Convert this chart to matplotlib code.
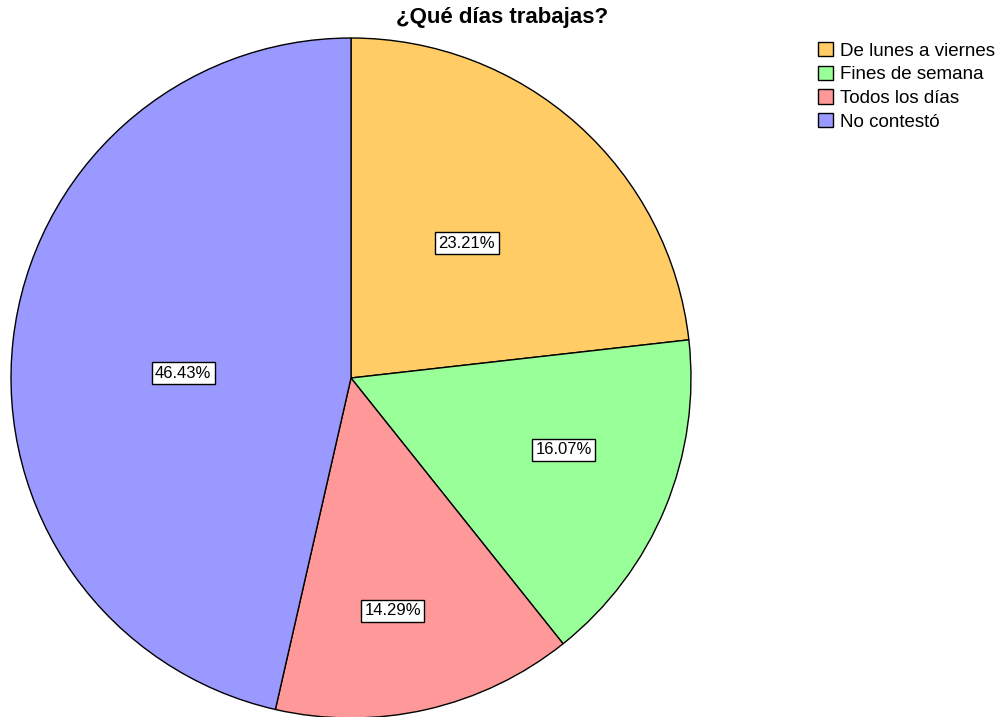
import matplotlib.pyplot as plt
from matplotlib.patches import Patch
import numpy as np

plt.rcParams['font.family'] = ['Liberation Sans', 'DejaVu Sans']

# Datos
categorias = ["De lunes a viernes", "Fines de semana", "Todos los días", "No contestó"]
porcentajes = [23.21, 16.07, 14.29, 46.43]
colores = ["#FFCC66", "#99FF99", "#FF9999", "#9999FF"]
titulo = "¿Qué días trabajas?"

# Posición de cada etiqueta: distancia (fracción del radio) y desvío angular (grados)
dist_etiquetas = [0.523, 0.661, 0.696, 0.494]
desvio_etiquetas = [1.1, 3.8, -2.7, 4.8]

W, H = 1002, 717
fig = plt.figure(figsize=(W / 100, H / 100), dpi=100)
cx, cy, r = 351, 378, 340
ax = fig.add_axes([(cx - r) / W, (H - cy - r) / H, 2 * r / W, 2 * r / H])

wedges, _ = ax.pie(porcentajes, colors=colores, startangle=90, counterclock=False,
                   wedgeprops=dict(edgecolor="black", linewidth=1))
ax.set_xlim(-1, 1)
ax.set_ylim(-1, 1)
ax.set_aspect("equal")
ax.axis("off")

# Etiquetas de porcentaje
for w, p, d, da in zip(wedges, porcentajes, dist_etiquetas, desvio_etiquetas):
    ang = np.deg2rad((w.theta1 + w.theta2) / 2 + da)
    ax.text(d * np.cos(ang), d * np.sin(ang), f"{p:.2f}%", ha="center", va="center",
            fontsize=12, bbox=dict(boxstyle="square,pad=0.2", facecolor="white",
                                   edgecolor="black", linewidth=1))

fig.text(502 / W, 1 - 18 / H, titulo, ha="center", va="center",
         fontsize=16, fontweight="bold")

handles = [Patch(facecolor=c, edgecolor="black", label=l) for c, l in zip(colores, categorias)]
fig.legend(handles=handles, loc="upper left", bbox_to_anchor=(818 / W, 1 - 42 / H),
           frameon=False, fontsize=13.5, handlelength=0.8, handleheight=0.8,
           handletextpad=0.35, labelspacing=0.32, borderpad=0, borderaxespad=0)

fig.savefig("out.png", dpi=100)
